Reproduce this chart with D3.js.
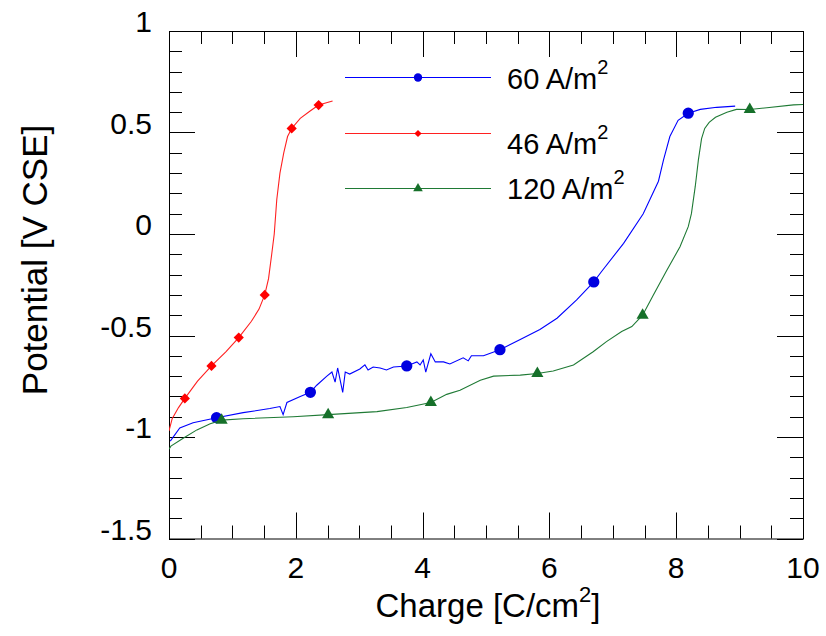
<!DOCTYPE html>
<html>
<head>
<meta charset="UTF-8">
<title>Potential vs charge</title>
<script src="https://d3js.org/d3.v7.min.js"></script>
<style>
  body { margin: 0; background: #fff; }
  text { font-family: "Liberation Sans", Arial, Helvetica, sans-serif; fill: #000; }
</style>
</head>
<body>
<div id="chart"></div>
<script>
// 60 A/m2 curve
const charge60 = [0.02, 0.17, 0.38, 0.75, 1.17, 1.59, 1.75, 1.80, 1.86, 2.07, 2.23, 2.33, 2.49, 2.57, 2.62, 2.66, 2.74, 2.78, 2.85, 3.01, 3.09, 3.14, 3.22, 3.33, 3.43, 3.54, 3.75, 3.91, 3.96, 4.01, 4.05, 4.13, 4.20, 4.33, 4.43, 4.64, 4.72, 4.77, 4.96, 5.22, 5.54, 5.85, 6.12, 6.43, 6.70, 6.82, 7.17, 7.48, 7.72, 7.80, 7.90, 8.03, 8.19, 8.38, 8.64, 8.93];
const pot60 = [-1.02, -0.955, -0.93, -0.905, -0.88, -0.86, -0.85, -0.89, -0.83, -0.80, -0.78, -0.745, -0.70, -0.68, -0.73, -0.66, -0.78, -0.68, -0.69, -0.665, -0.645, -0.67, -0.655, -0.66, -0.67, -0.655, -0.65, -0.63, -0.645, -0.62, -0.68, -0.59, -0.63, -0.63, -0.64, -0.61, -0.625, -0.60, -0.60, -0.57, -0.52, -0.47, -0.415, -0.325, -0.236, -0.186, -0.046, 0.10, 0.26, 0.365, 0.48, 0.56, 0.595, 0.614, 0.624, 0.63];
const mark60 = [[0.75, -0.905], [2.23, -0.78], [3.75, -0.65], [5.22, -0.57], [6.70, -0.236], [8.19, 0.595]];

// 46 A/m2 curve
const charge46 = [0.0, 0.05, 0.15, 0.25, 0.45, 0.67, 0.90, 1.10, 1.30, 1.42, 1.51, 1.57, 1.62, 1.66, 1.70, 1.75, 1.81, 1.87, 1.935, 2.07, 2.22, 2.36, 2.58];
const pot46 = [-0.97, -0.91, -0.855, -0.81, -0.725, -0.65, -0.58, -0.51, -0.43, -0.37, -0.30, -0.22, -0.10, 0.0, 0.17, 0.30, 0.40, 0.48, 0.52, 0.57, 0.605, 0.635, 0.655];
const mark46 = [[0.25, -0.81], [0.67, -0.65], [1.10, -0.51], [1.51, -0.30], [1.935, 0.52], [2.36, 0.635]];

// 120 A/m2 curve
const charge120 = [0.0, 0.03, 0.23, 0.44, 0.65, 0.83, 1.17, 1.96, 2.51, 3.28, 3.75, 4.13, 4.38, 4.59, 4.91, 5.12, 5.54, 5.81, 6.06, 6.38, 6.69, 6.90, 7.14, 7.30, 7.47, 7.64, 7.85, 8.06, 8.19, 8.24, 8.30, 8.35, 8.40, 8.45, 8.52, 8.62, 8.80, 8.95, 9.16, 9.43, 9.85, 10.0];
const pot120 = [-1.06, -1.045, -1.005, -0.965, -0.935, -0.917, -0.91, -0.90, -0.89, -0.875, -0.855, -0.83, -0.79, -0.77, -0.72, -0.70, -0.695, -0.687, -0.675, -0.645, -0.58, -0.53, -0.48, -0.456, -0.40, -0.30, -0.18, -0.063, 0.036, 0.10, 0.233, 0.365, 0.47, 0.52, 0.55, 0.575, 0.60, 0.614, 0.613, 0.622, 0.636, 0.638];
const mark120 = [[0.83, -0.917], [2.51, -0.89], [4.13, -0.83], [5.81, -0.687], [7.47, -0.40], [9.16, 0.613]];

const xTicks = [0, 2, 4, 6, 8, 10];
const yTicks = [1, 0.5, 0, -0.5, -1, -1.5];
const legendLabels = ["60 A/m", "46 A/m", "120 A/m"];

const width = 826, height = 636;
const margin = {left: 169, top: 31, right: 23, bottom: 97.5};
const w = width - margin.left - margin.right;
const h = height - margin.top - margin.bottom;

const svg = d3.select("#chart").append("svg")
    .attr("width", width)
    .attr("height", height);

const x = d3.scaleLinear().domain([0, 10]).range([0, w]);
const y = d3.scaleLinear().domain([-1.5, 1]).range([h, 0]);

const g = svg.append("g").attr("transform", "translate(" + margin.left + "," + margin.top + ")");

g.append("clipPath").attr("id", "clip")
  .append("rect").attr("width", w).attr("height", h);

// ticks pointing inward on all four sides
const xMinor = d3.range(0, 10.01, 0.5);
const yMinor = d3.range(-1.5, 1.001, 0.1);
function isMajor(v, step) { return Math.abs(v / step - Math.round(v / step)) < 1e-6; }

const tk = g.append("g").attr("stroke", "#000").attr("stroke-width", 1);
xMinor.forEach(v => {
  const len = isMajor(v, 2) ? 26 : 13;
  const px = Math.round(x(v)) + 0.5;
  tk.append("line").attr("x1", px).attr("x2", px).attr("y1", h).attr("y2", h - len);
  tk.append("line").attr("x1", px).attr("x2", px).attr("y1", 0).attr("y2", len);
});
yMinor.forEach(v => {
  const len = isMajor(v, 0.5) ? 26 : 13;
  const py = Math.round(y(v)) + 0.5;
  tk.append("line").attr("x1", 0).attr("x2", len).attr("y1", py).attr("y2", py);
  tk.append("line").attr("x1", w).attr("x2", w - len).attr("y1", py).attr("y2", py);
});

g.append("rect").attr("x", 0.5).attr("y", 0.5).attr("width", w).attr("height", h)
  .attr("fill", "none").attr("stroke", "#000").attr("stroke-width", 1);

// tick labels
g.selectAll(".xl").data(xTicks).join("text")
  .attr("x", d => x(d)).attr("y", h + 39)
  .attr("text-anchor", "middle").attr("font-size", 30)
  .text(d => d);
g.selectAll(".yl").data(yTicks).join("text")
  .attr("x", -17).attr("y", d => y(d) + 1)
  .attr("text-anchor", "end").attr("font-size", 30)
  .text(d => d);

// axis titles
const xt = svg.append("text")
  .attr("x", margin.left + w / 2 + 2).attr("y", 617)
  .attr("text-anchor", "middle").attr("font-size", 33);
xt.append("tspan").text("Charge [C/cm");
xt.append("tspan").attr("font-size", 22).attr("dy", -15).text("2");
xt.append("tspan").attr("dy", 15).text("]");

svg.append("text")
  .attr("transform", "translate(47," + 260 + ") rotate(-90)")
  .attr("text-anchor", "middle").attr("font-size", 35)
  .text("Potential [V CSE]");

// curves
const series = [
  {q: charge60, v: pot60, m: mark60, color: "#0000ff", mcolor: "#0000e0", sym: "circle"},
  {q: charge46, v: pot46, m: mark46, color: "#ff2020", mcolor: "#ff0000", sym: "diamond"},
  {q: charge120, v: pot120, m: mark120, color: "#1f7a35", mcolor: "#16702a", sym: "triangle"}
];

const line = d3.line().x(d => x(d[0])).y(d => y(d[1]));

function symbolPath(sym, big) {
  if (sym === "circle") return d3.symbol(d3.symbolCircle, big ? 100 : 55)();
  if (sym === "diamond") return d3.symbol(d3.symbolSquare, big ? 52 : 26)();
  return d3.symbol(d3.symbolTriangle, big ? 64 : 40)();
}

const plot = g.append("g").attr("clip-path", "url(#clip)");
series.forEach(s => {
  const pts = s.q.map((q, i) => [q, s.v[i]]);
  plot.append("path").datum(pts)
    .attr("d", line).attr("fill", "none")
    .attr("stroke", s.color).attr("stroke-width", 1.1);
  plot.selectAll(null).data(s.m).join("path")
    .attr("d", symbolPath(s.sym, true))
    .attr("transform", d => "translate(" + x(d[0]) + "," + y(d[1]) + ")" + (s.sym === "diamond" ? " rotate(45)" : ""))
    .attr("fill", s.mcolor);
});

// legend
const legY = [77, 133, 188];
const legTextY = [89, 154, 199];
series.forEach((s, i) => {
  svg.append("line").attr("x1", 345).attr("x2", 491)
    .attr("y1", legY[i] + 0.5).attr("y2", legY[i] + 0.5)
    .attr("stroke", s.color).attr("stroke-width", 1.1);
  svg.append("path").attr("d", symbolPath(s.sym, false))
    .attr("transform", "translate(418," + (legY[i] + 0.5) + ")" + (s.sym === "diamond" ? " rotate(45)" : ""))
    .attr("fill", s.mcolor);
  const t = svg.append("text").attr("x", 507).attr("y", legTextY[i]).attr("font-size", 29);
  t.append("tspan").text(legendLabels[i]);
  t.append("tspan").attr("font-size", 20).attr("dy", -15).text("2");
});
</script>
</body>
</html>
